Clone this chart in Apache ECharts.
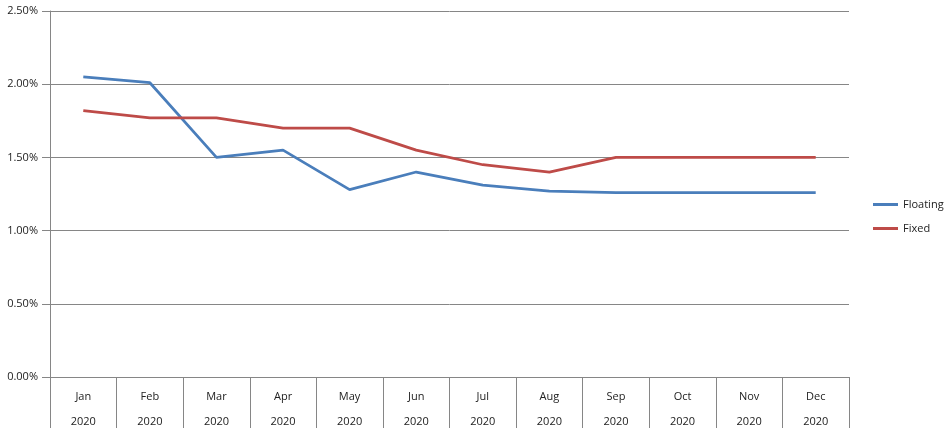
<!DOCTYPE html>
<html>
<head>
<meta charset="utf-8">
<style>
  html, body { margin: 0; padding: 0; background: #fff; }
  #chart { width: 951px; height: 442px; }
</style>
</head>
<body>
<div id="chart"></div>
<script src="https://cdn.jsdelivr.net/npm/echarts@6/dist/echarts.min.js"></script>
<script>
// chart data
var months = ['Jan', 'Feb', 'Mar', 'Apr', 'May', 'Jun', 'Jul', 'Aug', 'Sep', 'Oct', 'Nov', 'Dec'];
var years = ['2020', '2020', '2020', '2020', '2020', '2020', '2020', '2020', '2020', '2020', '2020', '2020'];
var floating = [2.05, 2.01, 1.50, 1.55, 1.28, 1.40, 1.31, 1.27, 1.26, 1.26, 1.26, 1.26];
var fixed = [1.82, 1.77, 1.77, 1.70, 1.70, 1.55, 1.45, 1.40, 1.50, 1.50, 1.50, 1.50];

var categories = months.map(function (m, i) { return m + '\n' + years[i]; });

var chart = echarts.init(document.getElementById('chart'));
var gridColor = '#868686';
var font = 'Open Sans';

chart.setOption({
  animation: false,
  textStyle: { fontFamily: font },
  grid: { left: 50, right: 102, top: 11, bottom: 65, containLabel: false },
  legend: {
    orient: 'vertical',
    left: 868,
    top: 194,
    itemWidth: 25,
    itemHeight: 3,
    itemGap: 13,
    icon: 'rect',
    textStyle: { fontSize: 11, color: '#222', fontFamily: font },
    data: ['Floating', 'Fixed']
  },
  xAxis: {
    type: 'category',
    data: categories,
    boundaryGap: true,
    axisLine: { lineStyle: { color: gridColor, width: 1 } },
    axisTick: { show: true, interval: 0, length: 51, lineStyle: { color: gridColor } },
    axisLabel: { interval: 0, margin: 7, lineHeight: 25, fontSize: 11, color: '#222', fontFamily: font }
  },
  yAxis: {
    type: 'value',
    min: 0,
    max: 2.5,
    interval: 0.5,
    axisLine: { show: true, lineStyle: { color: gridColor } },
    axisTick: { show: true, length: 8, lineStyle: { color: gridColor } },
    axisLabel: {
      margin: 12, fontSize: 11, color: '#222', fontFamily: font,
      formatter: function (v) { return v.toFixed(2) + '%'; }
    },
    splitLine: { show: true, lineStyle: { color: gridColor, width: 1 } }
  },
  series: [
    {
      name: 'Floating', type: 'line', data: floating,
      showSymbol: false, symbol: 'none',
      lineStyle: { color: '#4a7ebb', width: 2.75 },
      itemStyle: { color: '#4a7ebb' }
    },
    {
      name: 'Fixed', type: 'line', data: fixed,
      showSymbol: false, symbol: 'none',
      lineStyle: { color: '#be4b48', width: 2.75 },
      itemStyle: { color: '#be4b48' }
    }
  ]
});
</script>
</body>
</html>
